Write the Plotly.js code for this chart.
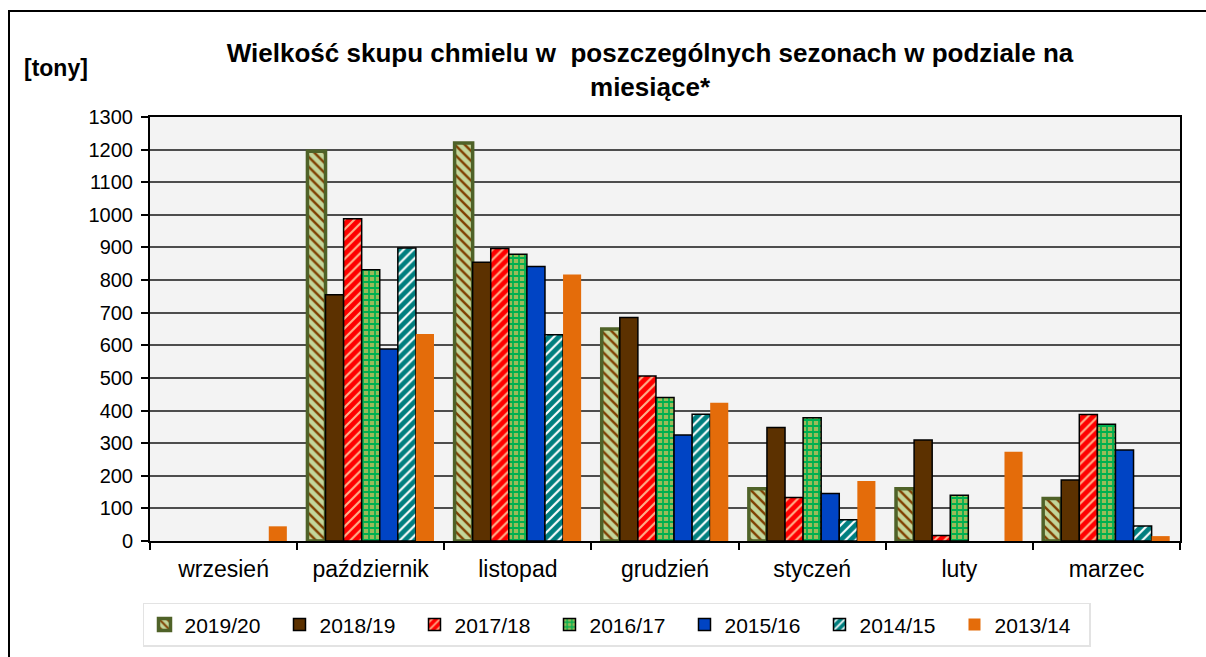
<!DOCTYPE html>
<html>
<head>
<meta charset="utf-8">
<script src="https://cdn.plot.ly/plotly-3.0.1.min.js"></script>
<style>
  html, body { margin: 0; padding: 0; background: #ffffff; }
  #wrap { position: relative; width: 1206px; height: 657px; overflow: hidden; }
  #chart { width: 1206px; height: 657px; }
  #frame { position: absolute; left: 8px; top: 10px; width: 1210px; height: 660px;
           border-left: 2px solid #000; border-top: 2px solid #000; pointer-events: none; }
</style>
</head>
<body>
<div id="wrap">
  <div id="chart"></div>
  <div id="frame"></div>
</div>
<script>
const months = ["wrzesień", "październik", "listopad", "grudzień", "styczeń", "luty", "marzec"];
const seasons = ["2019/20", "2018/19", "2017/18", "2016/17", "2015/16", "2014/15", "2013/14"];

const s2019_20 = [0, 1195, 1220, 650, 160, 160, 130];
const s2018_19 = [0, 755, 855, 685, 348, 310, 187];
const s2017_18 = [0, 988, 897, 506, 133, 17, 388];
const s2016_17 = [0, 832, 879, 440, 378, 140, 358];
const s2015_16 = [0, 589, 842, 325, 146, 0, 279];
const s2014_15 = [0, 898, 632, 389, 65, 0, 46];
const s2013_14 = [45, 635, 817, 424, 184, 274, 15];

const values = [s2019_20, s2018_19, s2017_18, s2016_17, s2015_16, s2014_15, s2013_14];

const styles = [
  { color: "#c3d69b", line: { color: "#4f6228", width: 3.5 },
    pattern: { shape: "\\", fgcolor: "#7f3f00", bgcolor: "#c3d69b", size: 7, solidity: 0.35 } },
  { color: "#5c3100", line: { color: "#000000", width: 1.5 } },
  { color: "#ff0000", line: { color: "#000000", width: 1.5 },
    pattern: { shape: "/", fgcolor: "#ffb08a", bgcolor: "#ff0000", size: 7, solidity: 0.3 } },
  { color: "#00b050", line: { color: "#000000", width: 1.5 },
    pattern: { shape: "+", fgcolor: "#00b050", bgcolor: "#9bbb59", size: 6, solidity: 0.5 } },
  { color: "#0044c4", line: { color: "#000000", width: 1.5 } },
  { color: "#007f7f", line: { color: "#000000", width: 1.5 },
    pattern: { shape: "/", fgcolor: "#ffffff", bgcolor: "#007f7f", size: 7, solidity: 0.3 } },
  { color: "#e46c0a", line: { color: "#e46c0a", width: 0 } }
];

// Zero purchases are not drawn as bars (as in the original chart)
const traces = seasons.map((name, i) => ({
  type: "bar",
  name: name,
  x: months,
  y: values[i].map(v => (v === 0 ? null : v)),
  marker: styles[i],
  hoverinfo: "x+y+name"
}));

const font = "Arial, 'Liberation Sans', sans-serif";

const layout = {
  width: 1206,
  height: 657,
  margin: { l: 150, r: 26, t: 117, b: 116, autoexpand: false },
  paper_bgcolor: "#ffffff",
  plot_bgcolor: "#f3f3f3",
  font: { family: font, color: "#000000", size: 20 },
  barmode: "group",
  bargap: 0.14,
  bargroupgap: 0,
  title: {
    text: "<b>Wielkość skupu chmielu w  poszczególnych sezonach w podziale na<br>miesiące*</b>",
    font: { family: font, size: 26, color: "#000000" },
    x: 0.539, xref: "container", xanchor: "center",
    y: 0.906, yref: "container", yanchor: "middle"
  },
  xaxis: {
    type: "category",
    showline: true, linecolor: "#000000", linewidth: 2, mirror: true,
    ticks: "outside", tickson: "boundaries", ticklen: 7, tickcolor: "#000000", tickwidth: 1.5,
    tickfont: { family: font, size: 23, color: "#000000" },
    ticklabelstandoff: 6,
    showgrid: false
  },
  yaxis: {
    range: [0, 1300], dtick: 100, tick0: 0,
    showline: true, linecolor: "#000000", linewidth: 2, mirror: true,
    ticks: "outside", ticklen: 7, tickcolor: "#000000", tickwidth: 1.5,
    tickfont: { family: font, size: 20, color: "#000000" },
    ticklabelstandoff: 4,
    showgrid: true, gridcolor: "#4d4d4d", gridwidth: 1.5,
    zeroline: false
  },
  legend: {
    orientation: "h",
    x: -0.0068, xanchor: "left",
    y: -0.146, yanchor: "top",
    bgcolor: "#ffffff", bordercolor: "#e3e3e3", borderwidth: 1.5,
    font: { family: font, size: 21, color: "#000000" },
    entrywidth: 90, entrywidthmode: "pixels",
    itemwidth: 30,
    traceorder: "normal",
    itemclick: false, itemdoubleclick: false
  },
  annotations: [{
    text: "<b>[tony]</b>",
    xref: "paper", yref: "paper",
    x: -0.1243, y: 1.1156, xanchor: "left", yanchor: "middle",
    showarrow: false,
    font: { family: font, size: 23, color: "#000000" }
  }]
};

Plotly.newPlot("chart", traces, layout, { displayModeBar: false });
</script>
</body>
</html>
